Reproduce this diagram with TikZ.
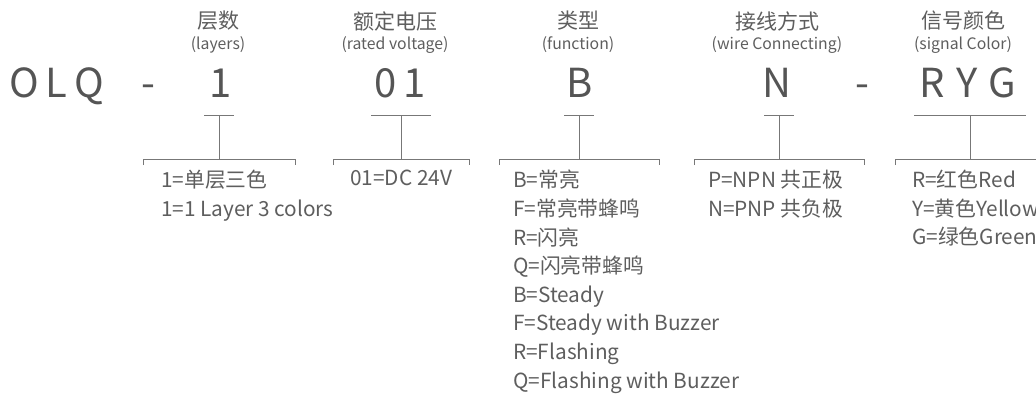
\documentclass[tikz,border=0pt]{standalone}
\usepackage{fontspec}
\setmainfont{Noto Sans CJK SC}
\usetikzlibrary{positioning}

\definecolor{codegray}{HTML}{555555}
\definecolor{textgray}{HTML}{5E5E5E}
\definecolor{linegray}{HTML}{777777}

\begin{document}
\begin{tikzpicture}[
    x=1pt, y=-1pt, % pixel-like units, y pointing down
    head/.style={font=\fontsize{21}{25}\selectfont, text=textgray, inner sep=0pt},
    sub/.style={font=\fontsize{15.8}{19}\selectfont, text=textgray, inner sep=0pt},
    code/.style={font=\fontsize{40}{48}\selectfont, text=codegray, anchor=base, inner sep=0pt},
    opts/.style={font=\fontsize{20.8}{28.6}\selectfont, text=textgray, align=left, anchor=north west, inner sep=0pt},
    tee/.style={draw=linegray, line width=1pt}
]
    % Page frame (fixes the margins)
    \useasboundingbox (0,0) rectangle (1036,397);

    % Headings
    \node[head] (h1) at (218,21) {层数};
    \node[sub]  (s1) at (218,45) {(layers)};
    \node[head] (h2) at (395,21) {额定电压};
    \node[sub]  (s2) at (395,45) {(rated voltage)};
    \node[head] (h3) at (578,21) {类型};
    \node[sub]  (s3) at (578,45) {(function)};
    \node[head] (h4) at (777,21) {接线方式};
    \node[sub]  (s4) at (777,45) {(wire Connecting)};
    \node[head] (h5) at (963,21) {信号颜色};
    \node[sub]  (s5) at (963,45) {(signal Color)};

    % Model code
    \node[code, anchor=base west] (olq) at (9,97) {O\hspace{7pt}L\hspace{7pt}Q};
    \node[code] (dash1) at (148,97) {-};
    \node[code] (c1) at (221,97) {1};
    \node[code] (c2) at (400,97) {0\hspace{7pt}1};
    \node[code] (c3) at (580,97) {B};
    \node[code] (c4) at (777,97) {N};
    \node[code] (dash2) at (862,97) {-};
    \node[code] (c5) at (968,97) {R\hspace{11pt}Y\hspace{11pt}G};

    % T-bars and brackets
    \foreach \i/\x/\bar/\half in {1/219/15/76, 2/401/30/68, 3/579/15/80, 4/779/15/85, 5/970/56/75} {
        \coordinate (top\i) at (\x,115);
        \coordinate (bot\i) at (\x,159);
        \draw[tee] ([xshift=-\bar]top\i) -- ([xshift=\bar]top\i);
        \draw[tee] (top\i) -- (bot\i);
        \draw[tee] ([shift={(-\half,6)}]bot\i) -- ++(0,-6) -- ++(2*\half,0) -- ++(0,6);
    }

    % Option lists
    \node[opts] (l1) at (161,170) {1=单层三色\\1=1 Layer 3 colors};
    \node[opts] (l2) at (350,170) {01=DC 24V};
    \node[opts] (l3) at (513,170) {B=常亮\\F=常亮带蜂鸣\\R=闪亮\\Q=闪亮带蜂鸣\\B=Steady\\F=Steady with Buzzer\\R=Flashing\\Q=Flashing with Buzzer};
    \node[opts] (l4) at (708,170) {P=NPN 共正极\\N=PNP 共负极};
    \node[opts] (l5) at (912,170) {R=红色Red\\Y=黄色Yellow\\G=绿色Green};

\end{tikzpicture}
\end{document}
